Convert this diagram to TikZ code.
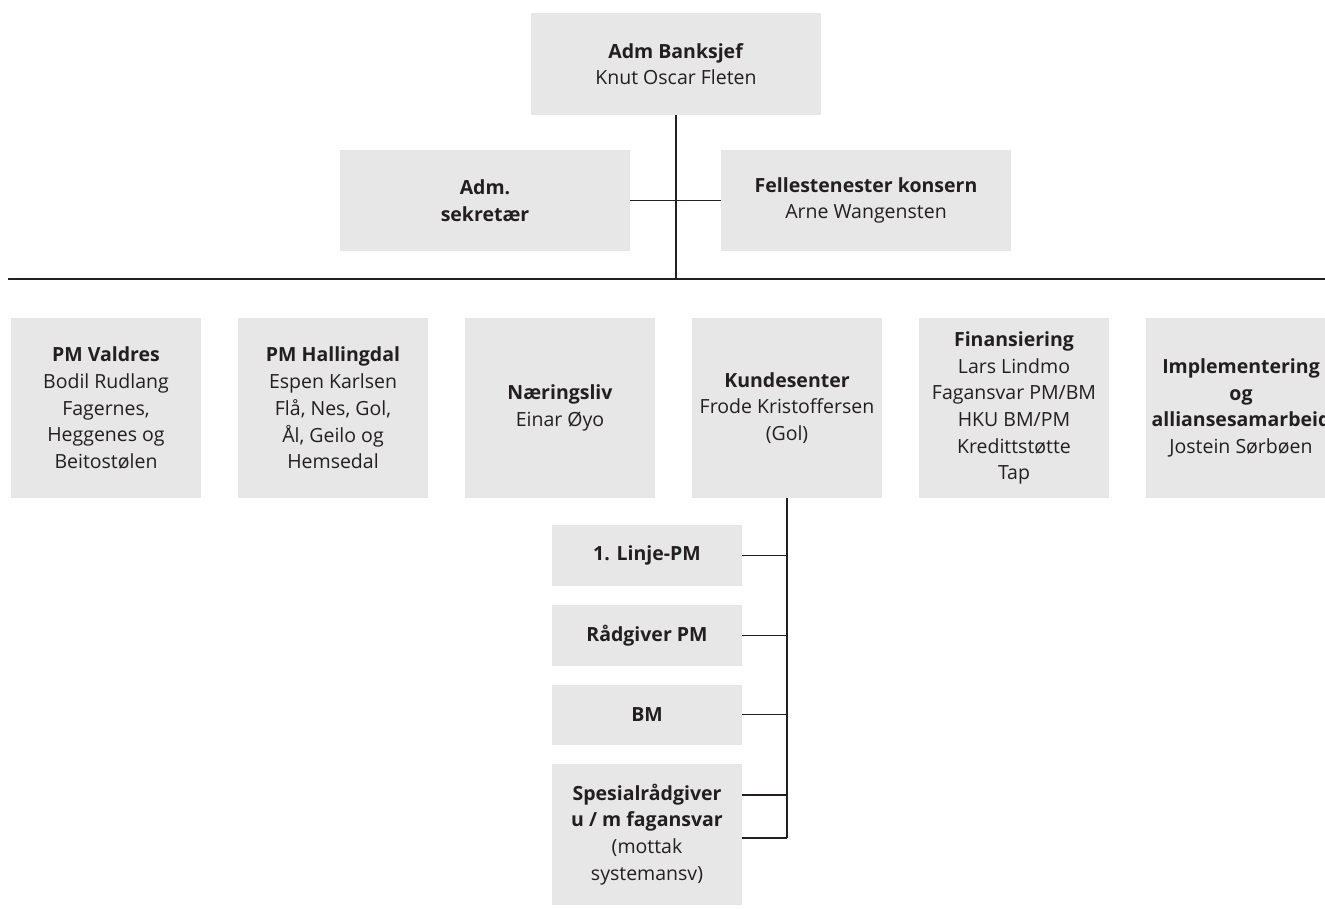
\documentclass[tikz,border=0pt]{standalone}
\usepackage{fontspec}
\setmainfont{Open Sans}
\definecolor{boxgray}{HTML}{E7E7E7}
\definecolor{inkdark}{HTML}{231F20}
\begin{document}
\begin{tikzpicture}[x=1pt,y=-1pt,
  box/.style={fill=boxgray, draw=none, inner sep=0pt, align=center, text=inkdark,
    font=\fontsize{19.5}{26.7}\selectfont},
  conn/.style={draw=inkdark, line width=1.4pt}]
\useasboundingbox (0,0) rectangle (1325,908);
% top level
\node[box, minimum width=290pt, minimum height=102pt] (top) at (676,64) {\textbf{Adm Banksjef}\\Knut Oscar Fleten};
\node[box, minimum width=290pt, minimum height=101pt] (adm) at (485,200.5) {\textbf{Adm.}\\\textbf{sekretær}};
\node[box, minimum width=290pt, minimum height=101pt] (felles) at (866,200.5) {\textbf{Fellestenester konsern}\\Arne Wangensten};
% row
\node[box, minimum width=190pt, minimum height=180pt] (valdres) at (106,408) {\textbf{PM Valdres}\\Bodil Rudlang\\Fagernes,\\Heggenes og\\Beitostølen};
\node[box, minimum width=190pt, minimum height=180pt] (halling) at (333,408) {\textbf{PM Hallingdal}\\Espen Karlsen\\Flå, Nes, Gol,\\Ål, Geilo og\\Hemsedal};
\node[box, minimum width=190pt, minimum height=180pt] (naering) at (560,408) {\textbf{Næringsliv}\\Einar Øyo};
\node[box, minimum width=190pt, minimum height=180pt] (kunde) at (787,408) {\textbf{Kundesenter}\\Frode Kristoffersen\\(Gol)};
\node[box, minimum width=190pt, minimum height=180pt] (finans) at (1014,408) {\textbf{Finansiering}\\Lars Lindmo\\Fagansvar PM/BM\\HKU BM/PM\\Kredittstøtte\\Tap};
\node[box, minimum width=190pt, minimum height=180pt] (impl) at (1241,408) {\textbf{Implementering}\\\textbf{og}\\\textbf{alliansesamarbeid}\\Jostein Sørbøen};
% sub boxes
\node[box, minimum width=190pt, minimum height=61pt] (linje) at (647,555.5) {\textbf{1. Linje-PM}};
\node[box, minimum width=190pt, minimum height=61pt] (radgiver) at (647,635.5) {\textbf{Rådgiver PM}};
\node[box, minimum width=190pt, minimum height=60pt] (bm) at (647,714.5) {\textbf{BM}};
\node[box, minimum width=190pt, minimum height=141pt] (spes) at (647,834.5) {\textbf{Spesialrådgiver}\\\textbf{u / m fagansvar}\\(mottak\\systemansv)};
% connectors
\coordinate (hl) at (8,279);
\coordinate (hr) at (1325,279);
\coordinate (s1) at (742,795);
\coordinate (s2) at (742,838);
\draw[conn] (hl) -- (hr);
\draw[conn] (top.south) -- (top.south |- hl);
\draw[conn] (adm.east) -- (felles.west);
\draw[conn] (kunde.south) -- (kunde.south |- s2);
\draw[conn] (linje.east) -- (linje.east -| kunde.south);
\draw[conn] (radgiver.east) -- (radgiver.east -| kunde.south);
\draw[conn] (bm.east) -- (bm.east -| kunde.south);
\draw[conn] (s1) -- (s1 -| kunde.south);
\draw[conn] (s2) -- (s2 -| kunde.south);
\end{tikzpicture}
\end{document}
